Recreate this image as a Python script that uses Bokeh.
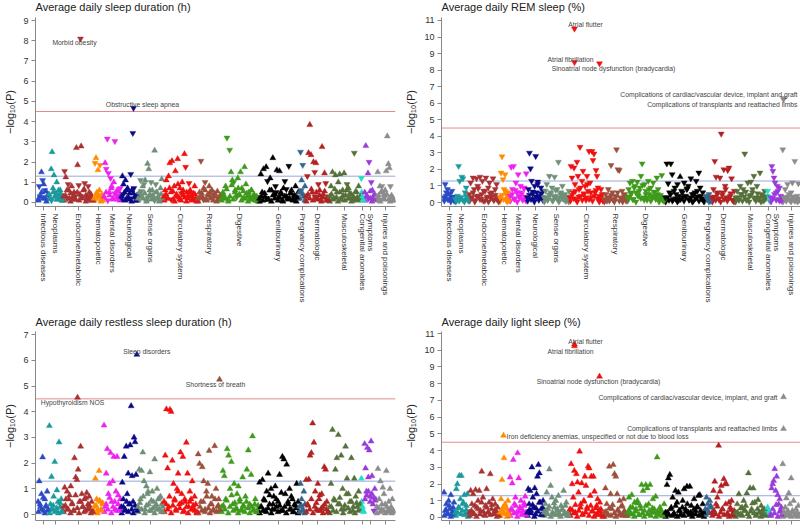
from bokeh.plotting import figure
from bokeh.models import ColumnDataSource, Span, FixedTicker
from bokeh.layouts import column, row
from bokeh.embed import file_html
from bokeh.resources import INLINE
from bokeh.core.properties import value, field

# ---------------- data ----------------
CATEGORIES = ["Infectious diseases", "Neoplasms", "Endocrine/metabolic", "Hematopoietic",
              "Mental disorders", "Neurological", "Sense organs", "Circulatory system",
              "Respiratory", "Digestive", "Genitourinary", "Pregnancy complications",
              "Dermatologic", "Musculoskeletal", "Congenital anomalies", "Symptoms",
              "Injuries and poisonings"]
# number of phenotypes (x extent) per category
CAT_SIZES = [34, 42, 92, 30, 52, 50, 78, 102, 70, 114, 120, 20, 70, 96, 10, 36, 54]
CAT_COLORS = ["#2a4bc4", "#1b9a9c", "#a83232", "#ff8c00", "#ee22ee", "#0a0a86", "#6f8f78",
              "#f01010", "#9c4f3c", "#3f9a1c", "#000000", "#36648b", "#b22222", "#56703a",
              "#22dcc8", "#9a3ad8", "#8c8c8c"]

# -log10(P) per phenotype, in category order; sign = direction of effect (+ up, - down)
SLEEP_DURATION = [
    [0.15, -0.8, 0.3, 1.5, -1.1, 0.9, 0.2, 0.55, -0.15, 0.35],
    [0.4, 0.2, 1.65, 2.5, 0.7, 1.35, 0.3, -0.5, 1.0, 0.15, 0.6, -0.3, 0.45, 0.25, 0.1],
    [0.3, -1.55, 1.25, 0.6, -0.9, 0.2, 0.45, 0.8, 0.15, 0.5, -0.3, 2.7, 1.85, -0.85, 0.4, 2.78,
     0.25, 0.6, -0.95, 0.35, 0.15, -0.8, 0.5, 0.3, 0.2, 0.1],
    [0.2, -1.95, 2.2, 0.5, 1.6, 0.3, -1.85, 0.15, 0.4, 0.1],
    [0.3, 1.95, -1.65, -3.15, -1.45, 0.5, -1.2, 0.8, 0.2, 1.0, -3.03, 0.4, 0.6, 0.15, 0.35, -0.7],
    [0.3, 1.3, 0.9, 0.5, 1.1, 0.2, 0.7, 0.15, 0.45, -1.4, 0.6, -3.43, -0.7, 0.25, 0.1, 0.35],
    [0.2, 0.5, -1.1, 0.3, 0.8, -0.9, 1.1, 0.15, 1.92, 1.65, 0.4, -1.0, 0.6, 0.25, 2.57, -0.9,
     0.5, 0.3, 0.1, 0.7, 1.15, 0.2],
    [0.3, 0.6, 1.1, 0.2, 1.3, 1.95, 0.5, 2.05, 0.15, 0.8, 1.55, 0.4, 2.15, 0.25, 0.7, 0.1, 1.0,
     0.35, 2.4, -1.75, 0.5, 0.2, -0.95, 0.6, 0.3, 0.15, 0.45, 0.8, 0.2, 0.1],
    [0.2, 0.5, -2.05, 0.3, 0.7, -1.0, 0.15, 0.4, 0.8, 0.25, 0.6, 0.1, 0.45, 0.3, 0.55, 0.2, 0.35],
    [0.2, 0.5, 0.3, 0.8, -3.2, 0.15, -2.6, 1.5, 1.1, -1.0, 0.6, 0.35, 1.2, 0.4, 1.5, 0.7, 0.2,
     1.75, 0.9, 0.3, 0.5, 0.15, 0.6, 0.25, 0.4, 0.1, 0.3, 0.2],
    [0.2, 1.4, 0.5, 1.65, 0.3, 1.75, -1.05, 0.15, 1.2, 0.6, 2.2, 0.4, -0.8, 1.6, 0.25, 1.55, 0.5,
     0.1, 0.7, -1.05, 0.3, 0.2, -1.8, 0.45, 0.6, 0.15, 0.35, 0.8, 0.25, 0.5],
    [0.5, -2.5, 1.1, -1.85, 0.3, 0.8],
    [0.3, -1.3, 2.45, 3.84, 2.35, 0.5, 2.0, -1.5, 1.95, 0.2, -0.9, 0.6, 0.15, 2.75, 0.4, 1.45,
     -0.95, 0.25, 0.1],
    [0.3, 0.8, 1.5, 0.2, 1.35, 0.5, 1.0, 1.4, 0.15, 0.6, 1.45, 0.35, -0.9, 0.7, 0.2, 0.4, 0.1,
     -2.45, 0.55, 0.25, 0.8, 0.3],
    [-1.2, 0.3, 0.1],
    [0.5, 2.8, 0.3, 1.45, -2.0, 0.2, -1.0, 0.6, 0.15, 0.4, 0.25],
    [0.3, 1.5, 0.2, 0.8, 0.5, -0.8, 0.15, 0.4, 0.6, 1.55, 3.28, 1.9, 1.7, -0.8, 0.35, 0.25, 0.1],
]
SLEEP_DURATION_LOW = [
    [0.1, -0.3, 0.5, 0.2, -0.6, 0.05, 0.4],
    [0.2, -0.1, 0.5, 0.3, 0.15, -0.4, 0.6, 0.1],
    [0.1, 0.35, -0.2, 0.6, 0.05, 0.25, -0.45, 0.15, 0.5, 0.1, -0.3, 0.2, 0.65, 0.05, 0.3, -0.15,
     0.4, 0.1],
    [0.1, 0.4, -0.25, 0.6, 0.05, 0.3],
    [0.2, 0.5, -0.1, 0.35, 0.7, 0.15, -0.45, 0.25, 0.55, 0.1],
    [0.15, -0.4, 0.1, 0.6, 0.25, -0.2, 0.05, 0.45, 0.3, 0.1],
    [0.1, 0.3, -0.55, 0.2, 0.45, 0.05, -0.25, 0.6, 0.15, 0.35, -0.1, 0.5, 0.2, 0.05, 0.4, 0.15],
    [0.1, 0.4, 0.2, 0.7, -0.15, 0.55, 0.05, 0.3, 0.9, 0.15, -0.45, 0.6, 0.25, 0.05, 0.35, 0.5,
     0.1, 0.2, 0.4, 0.05],
    [0.05, 0.25, 0.45, -0.15, 0.6, 0.1, 0.35, 0.5, 0.2, -0.4, 0.3, 0.05, 0.15, 0.25],
    [0.1, 0.4, 0.2, 0.65, 0.05, 0.3, 0.85, 0.15, 0.5, -0.25, 0.7, 0.35, 0.1, 0.55, 0.2, 0.45,
     0.05, 0.3, 0.6, 0.15, 0.25, 0.1, 0.05],
    [0.05, 0.3, 0.1, 0.45, -0.2, 0.15, 0.6, 0.05, 0.35, 0.2, -0.5, 0.1, 0.25, 0.4, 0.05, 0.3,
     -0.65, 0.15, 0.2, 0.45, 0.1, 0.3, 0.05, 0.2],
    [0.2, -0.6, 0.4, 0.1],
    [0.05, 0.4, 0.2, 0.65, 0.1, -0.3, 0.5, 0.15, 0.35, 0.05, 0.25, 0.55, 0.1, 0.2],
    [0.05, 0.4, 0.15, 0.65, 0.25, 0.05, 0.5, -0.2, 0.35, 0.1, 0.6, 0.2, 0.45, 0.05, 0.3, 0.15,
     0.5, 0.1, 0.2],
    [0.5, 0.15],
    [0.1, 0.35, -0.2, 0.55, 0.05, 0.3, 0.15],
    [0.1, 0.35, 0.05, 0.55, 0.2, -0.3, 0.4, 0.15, 0.05, 0.25, 0.1],
]

REM_SLEEP = [
    [-0.3, -1.1, -0.6, -0.8, -0.2, -0.5, 0.15, -0.7, -0.35, -0.1],
    [-0.2, -0.1, -0.4, -2.2, -1.3, -0.3, -1.55, -1.45, -0.15, -0.6, -0.9, -0.25, -0.1],
    [-0.5, -1.2, -0.3, -1.5, -0.8, -0.15, -1.45, -1.0, -0.4, -1.55, -0.2, -1.3, -0.7, -0.1,
     -1.5, -0.35, -0.9, -1.2, -0.25, -0.6, -1.45, -0.15, -0.45, -1.1, -0.3, -0.1],
    [-0.3, -1.8, -2.78, -1.4, -0.8, -1.7, -0.5, -0.2, -0.6, -0.1],
    [-0.4, -2.15, -0.8, -2.2, -0.2, -1.2, -0.6, -1.7, -0.3, -1.0, -0.5, -0.15, -0.9, -0.35, -1.75],
    [-0.3, -0.8, -3.0, -2.05, -1.3, -0.5, -0.2, -1.0, -2.8, -0.6, -1.25, -0.15, -0.4, -0.9, -0.3, -0.7],
    [-0.3, -0.7, -1.1, -0.2, -1.6, -0.5, -0.9, -0.15, -1.55, -0.4, -0.8, -2.45, -0.3, -0.6, -1.0,
     -0.2, -0.5, -0.1, -0.35, -0.7],
    [-0.3, -2.2, -1.5, -0.6, -2.1, -1.1, -0.2, -2.45, -1.6, -0.8, -3.35, -0.4, -1.3, -1.9, -0.5,
     -1.0, -0.15, -1.6, -0.7, -3.1, -1.2, -0.3, -3.1, -2.55, -2.95, -0.6, -1.95, -1.6, -0.9,
     -0.4, -0.2, -0.8, -0.5, -0.1],
    [-0.2, -0.5, -0.1, -0.8, -0.3, -2.25, -0.6, -0.15, -0.4, -3.2, -2.0, -1.95, -0.3, -0.7, -0.2,
     -0.5, -0.1],
    [-0.3, -0.8, -1.2, -0.5, -1.3, -0.2, -1.0, -0.6, -1.25, -0.4, -0.9, -1.6, -2.35, -0.3, -1.1,
     -0.7, -0.15, -1.3, -0.5, -0.9, -0.25, -1.2, -0.6, -0.35, -1.5, -0.8, -0.2, -0.45, -1.65,
     -0.3, -0.1],
    [-0.3, -2.35, -1.15, -0.6, -2.35, -1.7, -0.2, -0.9, -0.5, -1.1, -0.15, 1.55, -0.7, -0.3, -1.2,
     -0.4, -0.8, -1.0, -0.2, -1.45, -0.5, -0.1, -0.6, -1.3, -0.35, -1.8, -0.9, -0.25, -0.6, -0.15],
    [-0.4, -0.2, -0.5, -0.1],
    [-0.3, -0.8, -2.5, -1.55, -0.5, -0.2, -1.5, -4.15, -0.6, -2.0, -1.0, -0.3, -1.95, -2.1, -0.4,
     -1.45, -0.15, -0.7],
    [-0.3, -0.7, -0.2, -1.0, -0.5, -0.8, -2.95, -0.15, -1.2, -0.4, -1.25, -0.6, -1.6, -0.3, -1.0,
     -0.2, -1.8, -0.5, -0.1, -0.7, -0.35],
    [-0.7, -0.3],
    [-0.3, -2.2, -1.9, -1.5, -1.2, -0.6, -1.0, -0.2, -0.9, -0.4, -0.1],
    [-3.2, -0.3, -0.8, -0.15, -1.1, -0.5, -0.2, -0.6, -1.2, -0.35, -2.5, -0.1, -0.4, -1.15, -0.25],
]
REM_SLEEP_LOW = [
    [-0.1, -0.4, -0.2, -0.55, -0.05, -0.3, -0.15],
    [-0.05, -0.2, -0.1, -0.3, -0.15, -0.05, -0.4, -0.2],
    [-0.1, -0.3, -0.6, -0.05, -0.4, -0.85, -0.2, -0.5, -0.1, -0.7, -0.25, -0.05, -0.55, -0.35,
     -0.15, -0.8, -0.2, -0.05],
    [-0.1, -0.45, -0.2, -0.7, -0.05, -0.35],
    [-0.1, -0.5, -0.25, -0.75, -0.05, -0.4, -0.6, -0.2, -0.85, -0.1],
    [-0.1, -0.45, -0.2, -0.65, -0.05, -0.35, -1.1, -0.25, -0.55, -0.15],
    [-0.05, -0.3, -0.15, -0.45, -0.6, -0.1, -0.35, -0.75, -0.2, -0.05, -0.5, -0.25, -0.4, -0.1,
     -0.3, -0.05],
    [-0.1, -0.45, -0.25, -0.7, -0.05, -0.35, -0.9, -0.15, -0.55, -0.3, -1.1, -0.2, -0.6, -0.1,
     -0.4, -0.75, -0.25, -0.05, -0.3, -0.15],
    [-0.05, -0.15, -0.3, -0.1, -0.45, -0.2, -0.05, -0.35, -0.6, -0.1, -0.25, -0.05, -0.4, -0.15],
    [-0.1, -0.35, -0.6, -0.2, -0.9, -0.05, -0.45, -0.7, -0.25, -1.05, -0.15, -0.5, -0.3, -0.8,
     -0.1, -0.4, -0.65, -0.2, -0.5, -0.05, -0.3, -0.15, -0.1],
    [-0.05, -0.3, -0.15, -0.5, -0.1, -0.7, -0.25, -0.05, -0.4, -0.2, -0.6, -0.1, -0.35, -0.85,
     -0.15, -0.3, -0.05, -0.5, -0.25, -0.7, -0.1, -0.4, -0.2, -0.05],
    [-0.15, -0.3, -0.05, -0.25],
    [-0.05, -0.35, -0.15, -0.6, -0.25, -0.05, -0.45, -0.2, -0.8, -0.1, -0.3, -0.55, -0.15, -0.05],
    [-0.05, -0.3, -0.15, -0.5, -0.1, -0.35, -0.65, -0.2, -0.05, -0.45, -0.8, -0.25, -0.1, -0.55,
     -0.3, -0.05, -0.4, -0.15, -0.25],
    [-0.4, -0.1],
    [-0.05, -0.25, -0.5, -0.15, -0.7, -0.1, -0.35],
    [-0.05, -0.2, -0.1, -0.35, -0.15, -0.05, -0.3, -0.1, -0.2, -0.05, -0.15],
]

RESTLESS_SLEEP = [
    [0.5, 1.3, 0.3, 0.8, 2.23, 0.15, 0.6, 0.35, 0.9, 0.2],
    [3.45, 0.4, 1.47, 0.2, 0.7, 2.05, 0.15, 0.95, 0.5, 2.81, 0.3, 0.6, 0.1],
    [0.3, 1.05, 0.6, 0.9, 0.2, 0.75, 1.1, 0.45, 0.15, 2.2, 1.45, 1.35, 1.75, 0.5, 2.65, 0.8, 0.3,
     0.6, 0.15, 0.85, 0.4, 0.7, 0.25, 0.5, 0.1],
    [0.3, 1.4, 0.6, 0.2, 1.7, 0.5, 0.15, 0.4],
    [3.47, 0.3, 1.6, 2.55, 0.8, 1.2, 2.4, 0.5, 1.3, 2.25, 0.2, 0.9, 2.25, 0.4, 0.15, 0.6],
    [0.3, 1.25, 0.6, 2.25, 0.2, 2.65, 0.8, 1.6, 0.4, 2.7, 4.22, 1.5, 0.5, 3.0, 2.82, 1.55, 0.15],
    [0.3, 1.75, 0.6, 1.7, 2.42, 1.3, 0.2, 1.1, 0.8, 0.4, 1.65, 0.15, 0.9, 0.5, 2.15, 0.3, 1.0,
     0.6, 0.2, 0.7, 0.4, 0.1],
    [0.5, 2.3, 4.1, 1.8, 0.3, 4.08, 4.0, 2.1, 1.2, 0.6, 0.2, 1.0, 1.6, 0.4, 2.42, 0.8, 2.25, 0.15,
     0.5, 2.8, 1.6, 0.3, 0.9, 0.6, 1.3, 0.2, 0.7, 0.4, 0.1],
    [2.35, 1.98, 0.5, 1.85, 1.3, 0.2, 0.9, 1.2, 2.48, 0.4, 0.7, 0.15, 2.67, 1.0, 0.3, 0.6, 0.2],
    [0.3, 1.7, 1.5, 0.6, 2.55, 2.3, 1.0, 2.05, 0.4, 1.2, 0.2, 0.8, 1.1, 0.5, 0.15, 1.45, 0.3, 0.7,
     1.75, 2.5, 0.4, 1.55, 3.05, 0.2, 0.6, 0.1, 0.35],
    [1.25, 0.3, 1.35, 0.6, 0.15, 0.9, 1.6, 0.4, 1.0, 0.2, 0.7, 1.1, 0.3, 0.5, 1.55, 0.15, 2.25,
     2.15, 0.8, 1.95, 0.4, 1.0, 0.2, 0.6, 0.1, 0.35, 1.2, 0.5],
    [0.3, 1.2, 0.6, 0.15, 0.9, 0.4],
    [1.35, 0.4, 1.37, 2.3, 2.4, 3.55, 2.8, 0.9, 0.2, 1.2, 0.6, 0.15, 0.8, 0.3, 1.85, 1.75, 0.5, 0.1],
    [0.3, 1.2, 3.3, 0.6, 1.75, 2.2, 3.1, 0.4, 2.3, 1.0, 0.2, 2.65, 1.4, 0.8, 0.5, 2.2, 0.15, 1.4,
     0.7, 0.3, 0.9, 0.4],
    [1.4, 0.3, 0.1],
    [2.75, 1.8, 0.9, 2.6, 1.45, 2.5, 0.7, 2.85, 1.5, 0.4, -0.15, 1.0, 0.6],
    [0.3, 1.78, 0.6, 1.3, 0.2, 1.05, 0.8, 0.4, 1.7, 0.15, 0.5, 1.0, 0.3, 0.6, 0.1],
]
RESTLESS_SLEEP_LOW = [
    [0.1, 0.4, 0.2, 0.65, 0.05, 0.3, 0.15],
    [0.05, 0.2, 0.35, 0.1, 0.25, 0.05, 0.45, 0.15],
    [0.1, 0.35, 0.2, 0.6, 0.05, 0.4, 0.15, 0.75, 0.25, 0.05, 0.5, 0.3, 0.1, 0.65, 0.2, 0.35,
     0.05, 0.15],
    [0.1, 0.35, 0.05, 0.55, 0.2, 0.45],
    [0.1, 0.4, 0.2, 0.65, 0.05, 0.3, 0.5, 0.15, 0.75, 0.25],
    [0.05, 0.3, 0.15, 0.5, 0.1, 0.4, 0.2, 0.05, 0.35, 0.25],
    [0.1, 0.45, 0.2, 0.7, 0.05, 0.35, 0.9, 0.15, 0.55, 0.25, 0.05, 0.4, 0.2, 0.65, 0.1, 0.3],
    [0.1, 0.4, 0.2, 0.7, 0.05, 0.35, 0.55, 0.15, 0.9, 0.25, 0.45, 0.1, 0.6, 0.3, 0.05, 0.5, 0.2,
     0.35, 0.15, 0.05],
    [0.05, 0.3, 0.15, 0.5, 0.1, 0.7, 0.25, 0.05, 0.4, 0.2, 0.6, 0.1, 0.35, 0.15],
    [0.1, 0.35, 0.2, 0.55, 0.05, 0.3, 0.75, 0.15, 0.45, 0.25, 0.05, 0.6, 0.2, 0.35, 0.1, 0.5,
     0.25, 0.05, 0.3, 0.15, 0.4, 0.1, 0.2],
    [0.05, 0.3, 0.15, 0.55, 0.1, 0.25, 0.75, 0.05, 0.4, 0.2, 0.6, 0.1, 0.35, 0.85, 0.15, 0.3,
     0.05, 0.5, 0.2, 0.7, 0.1, 0.4, 0.25, 0.05],
    [0.1, 0.35, 0.2, 0.05],
    [0.1, 0.35, 0.2, 0.6, 0.05, 0.3, 0.45, 0.15, 0.75, 0.25, 0.05, 0.4, 0.2, 0.1],
    [0.05, 0.3, 0.15, 0.55, 0.1, 0.4, 0.65, 0.2, 0.05, 0.35, 0.8, 0.25, 0.1, 0.5, 0.3, 0.05,
     0.45, 0.15, 0.2],
    [0.5, 0.15],
    [0.6, 0.75, 0.9, 0.5, 0.8, 0.65, 0.55],
    [0.05, 0.25, 0.1, 0.4, 0.15, 0.05, 0.3, 0.1, 0.2, 0.05, 0.15],
]

LIGHT_SLEEP = [
    [1.5, 0.4, 0.8, 0.2, 1.0, 0.5, 1.35, 0.15, 0.6, 0.3],
    [0.3, 1.7, 2.0, 0.6, 2.5, 1.1, 2.5, 0.4, 0.9, 1.35, 0.2, 0.7, 1.4, 0.3],
    [0.3, 1.6, 0.8, 1.4, 0.2, 1.65, 0.6, 1.0, 1.6, 0.4, 2.75, 1.2, 0.15, 0.7, 1.7, 0.3, 0.9, 2.6,
     0.5, 1.1, 0.2, 0.8, 0.35, 0.6, 0.1],
    [0.3, 1.1, 2.25, 0.6, 3.55, 0.8, 0.2, 0.5, 1.0, 0.15],
    [2.4, 0.5, 2.05, 3.45, 0.8, 1.2, 0.3, 3.85, 2.35, 0.6, 1.0, 0.2, 0.4, 0.7, 1.25, 0.15],
    [0.3, 1.7, 0.8, 1.6, 0.4, 3.0, 1.2, 0.6, 1.75, 0.2, 1.4, 2.45, 3.15, 2.65, 0.9, 0.5, 0.15, 1.0],
    [0.3, 0.8, 1.5, 0.5, 2.88, 1.9, 1.2, 0.2, 0.6, 1.0, 0.4, 1.3, 0.15, 0.7, 0.5, 1.6, 0.3, 0.9,
     0.2, 0.1],
    [0.5, 3.2, 2.0, 1.2, 2.8, 0.3, 2.6, 2.1, 1.5, 3.95, 0.8, 2.05, 0.2, 1.0, 2.45, 1.9, 0.6, 3.05,
     2.95, 1.3, 2.45, 0.4, 2.45, 1.55, 0.15, 0.7, 1.1, 0.35, 0.9, 0.5, 0.2, 0.1],
    [0.3, 1.75, 0.8, 0.2, 3.05, 1.4, 0.5, 3.15, 2.6, 2.45, 1.4, 0.4, 1.0, 0.15, 0.7, 1.1, 0.3, 0.1],
    [0.3, 1.2, 0.6, 1.35, 0.2, 0.9, 0.5, 1.0, 0.15, 0.7, 1.95, 1.6, 0.4, 1.95, 1.75, 0.8, 1.95,
     0.3, 1.1, 0.5, 1.25, 3.6, 0.2, 0.6, 0.35, 0.1, 0.8],
    [0.3, 1.95, 2.35, 2.55, 0.6, 1.2, 0.2, 1.6, 0.9, 1.5, 0.4, 0.15, 1.0, 1.7, 0.5, 1.85, 0.3,
     1.85, 0.7, 0.2, 1.1, 0.4, 0.6, 1.3, 1.35, 0.15, 0.8, 0.3],
    [0.5, 1.2, 0.8, 0.3, 1.0, 0.6],
    [0.3, 1.6, 2.15, 0.8, 1.2, 4.3, 1.55, 1.9, 0.5, 2.3, 2.0, 2.0, 0.2, 0.9, 0.6, 1.0, 0.15, 0.4],
    [0.3, 0.8, 1.4, 0.2, 0.6, 1.0, 0.4, 1.45, 2.65, 1.75, 0.5, 1.75, 0.9, 0.15, 1.05, 0.3, 0.7,
     0.2, 0.5, 0.1],
    [0.6, 0.3],
    [0.2, 1.75, 2.0, 2.2, 2.9, 1.6, 2.45, 1.35, 0.8, 1.1, 0.4, 0.15],
    [3.2, 0.3, 0.6, 1.15, 0.2, 1.45, 0.8, 2.35, 0.4, 1.0, 0.15, 0.5, 0.3, 0.7, 0.1],
]
LIGHT_SLEEP_LOW = [
    [0.1, 0.45, 0.25, 0.7, 0.05, 0.35, 0.9],
    [0.1, 0.3, 0.55, 0.2, 0.8, 0.15, 0.45, 0.05],
    [0.1, 0.4, 0.25, 0.7, 0.05, 0.5, 0.2, 0.9, 0.35, 0.1, 0.6, 0.3, 0.15, 0.75, 0.25, 0.45,
     0.05, 0.2],
    [0.1, 0.45, 0.25, 0.7, 0.05, 0.35],
    [0.1, 0.45, 0.25, 0.7, 0.05, 0.35, 0.55, 0.15, 0.85, 0.3],
    [0.1, 0.45, 0.25, 0.75, 0.05, 0.55, 0.35, 0.9, 0.15, 0.6],
    [0.1, 0.4, 0.2, 0.65, 0.05, 0.3, 0.85, 0.15, 0.5, 0.25, 0.05, 0.45, 0.2, 0.7, 0.1, 0.35],
    [0.1, 0.45, 0.25, 0.75, 0.05, 0.4, 0.6, 0.15, 0.95, 0.3, 0.5, 0.1, 0.7, 0.35, 0.05, 0.55,
     0.2, 0.4, 0.15, 0.05],
    [0.05, 0.35, 0.15, 0.55, 0.1, 0.75, 0.25, 0.05, 0.45, 0.2, 0.65, 0.1, 0.4, 0.15],
    [0.1, 0.4, 0.2, 0.6, 0.05, 0.35, 0.85, 0.15, 0.5, 0.25, 0.05, 0.7, 0.2, 0.4, 0.1, 0.55, 0.3,
     0.05, 0.35, 0.15, 0.45, 0.1, 0.25],
    [0.05, 0.3, 0.15, 0.5, 0.1, 0.25, 0.7, 0.05, 0.4, 0.2, 0.6, 0.1, 0.35, 0.8, 0.15, 0.3, 0.05,
     0.5, 0.2, 0.65, 0.1, 0.4, 0.25, 0.05],
    [0.15, 0.45, 0.25, 0.7],
    [0.1, 0.4, 0.2, 0.65, 0.05, 0.3, 0.5, 0.15, 0.8, 0.25, 0.05, 0.45, 0.2, 0.1],
    [0.05, 0.3, 0.15, 0.55, 0.1, 0.4, 0.7, 0.2, 0.05, 0.35, 0.85, 0.25, 0.1, 0.5, 0.3, 0.05,
     0.45, 0.15, 0.2],
    [0.4, 0.1],
    [0.1, 0.5, 0.25, 0.75, 0.05, 0.35, 0.6],
    [0.05, 0.25, 0.1, 0.4, 0.15, 0.05, 0.3, 0.1, 0.2, 0.05, 0.15],
]

# labelled phenotypes: name, position in phenotype order, signed -log10(P)
DUR_ANN_NAMES = ["Morbid obesity", "Obstructive sleep apnea"]
DUR_ANN_POS = [129, 288]
DUR_ANN_VALS = [-8.1, -4.67]

REM_ANN_NAMES = ["Atrial flutter", "Atrial fibrillation",
                 "Sinoatrial node dysfunction (bradycardia)",
                 "Complications of cardiac/vascular device, implant and graft",
                 "Complications of transplants and reattached limbs"]
REM_ANN_POS = [393, 393, 468, 1020, 1020]
REM_ANN_VALS = [-10.5, -8.47, -8.4, -6.3, -6.22]

RESTLESS_ANN_NAMES = ["Sleep disorders", "Shortness of breath", "Hypothyroidism NOS"]
RESTLESS_ANN_POS = [298, 546, 120]
RESTLESS_ANN_VALS = [6.22, 5.25, 4.55]

LIGHT_ANN_NAMES = ["Atrial flutter", "Atrial fibrillation",
                   "Sinoatrial node dysfunction (bradycardia)",
                   "Complications of cardiac/vascular device, implant, and graft",
                   "Complications of transplants and reattached limbs",
                   "Iron deficiency anemias, unspecified or not due to blood loss"]
LIGHT_ANN_POS = [393, 393, 468, 1020, 1020, 180]
LIGHT_ANN_VALS = [10.35, 10.25, 8.43, 7.2, 5.3, 4.9]

BONFERRONI = 4.5
NOMINAL = 1.3

# ---------------- drawing ----------------
FONT = "Liberation Sans"
starts = []
acc = 0
for s in CAT_SIZES:
    starts.append(acc)
    acc += s
centers = [st + s // 2 for st, s in zip(starts, CAT_SIZES)]


def cat_of(pos):
    for i, st in enumerate(starts):
        if st <= pos < st + CAT_SIZES[i]:
            return i
    return len(starts) - 1


def spread(series, xs, ys, mk, cl):
    for ci, vals in enumerate(series):
        n = len(vals)
        for i, v in enumerate(vals):
            xs.append(starts[ci] + (i + 0.5) * CAT_SIZES[ci] / n)
            ys.append(abs(v))
            mk.append("triangle" if v > 0 else "inverted_triangle")
            cl.append(CAT_COLORS[ci])


def make_panel(title, series, low, ann_names, ann_pos, ann_vals, label_layout, ymax, yr,
               width, bl, br, height, bt, bb, show_xlabels, xr_end, title_standoff, top_margin):
    p = figure(width=width, height=height, output_backend="svg", toolbar_location=None,
               x_range=(-6, xr_end), y_range=yr, min_border_left=bl, min_border_right=br,
               min_border_top=bt, min_border_bottom=bb, title=title,
               margin=(top_margin, 0, 0, 0))
    p.title.text_font = FONT
    p.title.text_font_size = "11px"
    p.title.text_font_style = "normal"
    p.title.text_color = "#222222"
    p.title.standoff = title_standoff
    p.title.offset = 0
    p.outline_line_color = None
    p.grid.visible = False
    p.background_fill_color = "white"
    p.border_fill_color = "white"

    xs, ys, mk, cl = [], [], [], []
    spread(low, xs, ys, mk, cl)
    spread(series, xs, ys, mk, cl)
    for pos, v in zip(ann_pos, ann_vals):
        xs.append(pos)
        ys.append(abs(v))
        mk.append("triangle" if v > 0 else "inverted_triangle")
        cl.append(CAT_COLORS[cat_of(pos)])

    p.add_layout(Span(location=BONFERRONI, dimension="width", line_color="#e58a8a",
                      line_width=1, level="underlay"))
    p.add_layout(Span(location=NOMINAL, dimension="width", line_color="#9aa6d8",
                      line_width=1, level="underlay"))

    src = ColumnDataSource(dict(x=xs, y=ys, marker=mk, color=cl))
    p.scatter("x", "y", marker=field("marker"), size=6, fill_color=field("color"),
              line_color=field("color"), line_width=0.4, source=src)

    for name, pos, v, (align, dx, dy) in zip(ann_names, ann_pos, ann_vals, label_layout):
        p.text(x=[pos], y=[abs(v)], text=[name], x_offset=dx, y_offset=dy,
               text_align=align, text_baseline="middle", text_font=value(FONT),
               text_font_size="6.8px", text_color="#444444")

    # y axis
    p.yaxis.ticker = FixedTicker(ticks=list(range(0, ymax + 1)))
    p.yaxis.axis_label = "\u2212log\u2081\u2080(P)"
    p.yaxis.axis_label_text_font = FONT
    p.yaxis.axis_label_text_font_size = "11px"
    p.yaxis.axis_label_text_font_style = "normal"
    p.yaxis.axis_label_text_color = "#222222"
    p.yaxis.axis_label_standoff = 4
    p.yaxis.major_label_text_font = FONT
    p.yaxis.major_label_text_font_size = "9px"
    p.yaxis.major_label_text_color = "#333333"
    p.yaxis.major_label_standoff = 3
    p.yaxis.minor_tick_line_color = None
    p.yaxis.major_tick_out = 4
    p.yaxis.major_tick_in = 0
    p.yaxis.axis_line_color = "#888888"
    p.yaxis.major_tick_line_color = "#888888"

    # x axis
    p.xaxis.ticker = FixedTicker(ticks=centers)
    if show_xlabels:
        p.xaxis.major_label_overrides = {c: n for c, n in zip(centers, CATEGORIES)}
    else:
        p.xaxis.major_label_overrides = {c: "" for c in centers}
    p.xaxis.major_label_orientation = "vertical"
    p.xaxis.major_label_text_font = FONT
    p.xaxis.major_label_text_font_size = "8px"
    p.xaxis.major_label_text_color = "#333333"
    p.xaxis.major_label_standoff = 3
    p.xaxis.minor_tick_line_color = None
    p.xaxis.major_tick_out = 4
    p.xaxis.major_tick_in = 0
    p.xaxis.axis_line_color = "#888888"
    p.xaxis.major_tick_line_color = "#888888"
    return p


p1 = make_panel("Average daily sleep duration (h)", SLEEP_DURATION, SLEEP_DURATION_LOW,
                DUR_ANN_NAMES, DUR_ANN_POS, DUR_ANN_VALS,
                [("center", -6, 4), ("center", 9, -4)],
                9, (-0.2, 9.15), 400, 35, 5, 312, 24, 98, True, 1074, 10, -7)
p2 = make_panel("Average daily REM sleep (%)", REM_SLEEP, REM_SLEEP_LOW,
                REM_ANN_NAMES, REM_ANN_POS, REM_ANN_VALS,
                [("center", 11, -4), ("center", -4, -3), ("center", 14, 5),
                 ("right", 14, -4), ("right", 14, 5)],
                11, (-0.24, 11.18), 400, 41, 0, 312, 24, 98, True, 1071, 10, -7)
p3 = make_panel("Average daily restless sleep duration (h)", RESTLESS_SLEEP, RESTLESS_SLEEP_LOW,
                RESTLESS_ANN_NAMES, RESTLESS_ANN_POS, RESTLESS_ANN_VALS,
                [("center", 10, -3), ("center", -4, 5), ("center", -5, 5)],
                7, (-0.23, 7.12), 400, 35, 5, 225, 26, 10, False, 1074, 8, 0)
p4 = make_panel("Average daily light sleep (%)", LIGHT_SLEEP, LIGHT_SLEEP_LOW,
                LIGHT_ANN_NAMES, LIGHT_ANN_POS, LIGHT_ANN_VALS,
                [("center", 11, -3), ("center", -4, 5), ("center", -1, 5),
                 ("right", -6, 0), ("right", -6, 0), ("left", 3, 1)],
                11, (-0.18, 11.12), 400, 41, 0, 225, 26, 10, False, 1071, 8, 0)

layout = column(row(p1, p2), row(p3, p4))
open("out.html", "w").write(file_html(layout, INLINE))
